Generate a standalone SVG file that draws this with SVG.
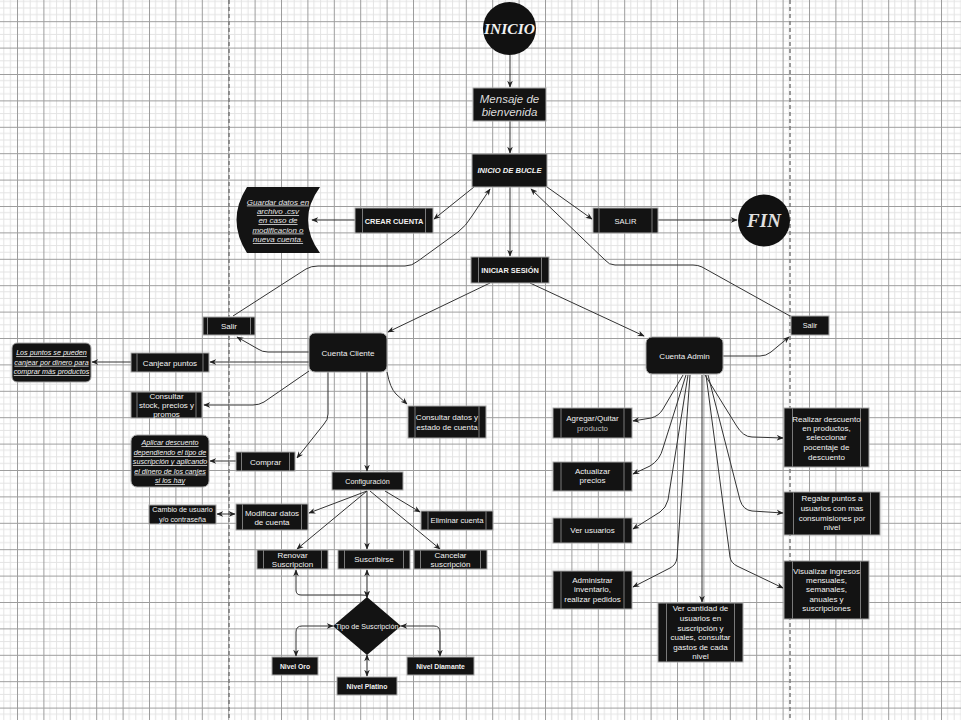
<svg xmlns="http://www.w3.org/2000/svg" width="961" height="720" viewBox="0 0 961 720">
<defs>
<pattern id="grid" width="26.4" height="26.4" patternUnits="userSpaceOnUse" x="17" y="21.2">
<path d="M6.6,0V26.4M13.2,0V26.4M19.8,0V26.4M0,6.6H26.4M0,13.2H26.4M0,19.8H26.4" stroke="#e3e3e3" stroke-width="1" fill="none"/>
<path d="M0.5,0V26.4M0,0.5H26.4" stroke="#9c9c9c" stroke-width="1" fill="none"/>
</pattern>
<marker id="ar" viewBox="0 0 10 10" refX="9" refY="5" markerWidth="7" markerHeight="7" markerUnits="userSpaceOnUse" orient="auto-start-reverse"><path d="M0,1 L10,5 L0,9 L3,5 z" fill="#222"/></marker>
</defs>
<style>
.bx{fill:#131313;stroke:#a8a8a8;stroke-width:1}
.in{stroke:#7a7a7a;stroke-width:1;fill:none}
.c{fill:none;stroke:#333;stroke-width:1;marker-end:url(#ar)}
.b{marker-start:url(#ar)}
.t{font-family:"Liberation Sans",Arial,sans-serif;font-size:8px;fill:#f2f2f2;text-anchor:middle}
.s{font-size:7.2px}
.u{font-style:italic;text-decoration:underline}
.dash{stroke:#7a7a7a;stroke-width:1.5;stroke-dasharray:4,3;fill:none}
</style>
<rect width="961" height="720" fill="#ffffff"/>
<rect width="961" height="720" fill="url(#grid)"/>
<path class="dash" d="M229,0V720M790,0V720"/>

<g id="connectors">
<path class="c" d="M510,55 L510,87"/>
<path class="c" d="M510,121 L510,153"/>
<path class="c" d="M474,187 L434,219"/>
<path class="c" d="M355,220 L312,220"/>
<path class="c" d="M547,187 L592,219"/>
<path class="c" d="M658,220 L737,220"/>
<path class="c" d="M510,187 L510,256"/>
<path class="c" d="M233,316 L306,269 Q311,266 318,266 L405,266 Q412,266 418,261 L458,232 Q466,226 472,216 L490,189"/>
<path class="c" d="M790,316 L702,267 Q698,265 693,265 L615,265 Q609,265 605,260 L531,189"/>
<path class="c" d="M490,283 L388,332"/>
<path class="c" d="M530,283 L644,336"/>
<path class="c" d="M309,352 L268,352 Q262,352 258,349 L237,337"/>
<path class="c" d="M309,362 L210,362"/>
<path class="c" d="M131,362 L92,362"/>
<path class="c" d="M309,371 L264,402 Q259,405 253,405 L204,405"/>
<path class="c" d="M328,372 L328,414 Q328,420 324,424 L297,458"/>
<path class="c" d="M236,461 L210,461"/>
<path class="c b" d="M217,514 L235,514"/>
<path class="c" d="M387,372 Q390,388 396,394 L407,404"/>
<path class="c" d="M367,372 L367,471"/>
<path class="c" d="M367,491 L309,513"/>
<path class="c" d="M367,491 L297,549"/>
<path class="c" d="M367,491 L367,549"/>
<path class="c" d="M385,491 L420,512"/>
<path class="c" d="M370,491 L440,549"/>
<path class="c b" d="M296,570 L296,590 Q296,595 301,595 L362,595 Q367,595 367,597.5"/>
<path class="c b" d="M367,570 L367,597"/>
<path class="c b" d="M333,626 L302,626 Q296,626 296,632 L296,656"/>
<path class="c b" d="M401,626 L434,626 Q440,626 440,632 L440,656"/>
<path class="c b" d="M367,655 L367,676"/>
<path class="c" d="M723,356 L760,356 Q766,356 771,352 L789,337"/>
<path class="c" d="M683,375 L663,409 Q659,416 651,418 L633,421"/>
<path class="c" d="M686,375 L663,448 Q660,460 650,466 L633,474"/>
<path class="c" d="M688,375 L668,500 Q666,508 660,512 L633,529"/>
<path class="c" d="M690,375 L677,558 Q676,565 670,568 L633,587"/>
<path class="c" d="M702,375 L702,602"/>
<path class="c" d="M706,375 L730,557 Q731,563 737,566 L783,588"/>
<path class="c" d="M708,375 L740,500 Q743,510 752,511 L783,513"/>
<path class="c" d="M705,375 L736,425 Q743,437 752,437 L783,438"/>
</g>

<g id="inicio"><circle cx="509.5" cy="28.5" r="26.5" fill="#111"/><text x="509.5" y="34" class="t" style="font-family:'Liberation Serif',serif;font-size:15.5px;font-weight:bold;font-style:italic">INICIO</text></g>
<g id="mensaje"><rect class="bx" x="473" y="88" width="73" height="33"/><text class="t" style="font-size:11.5px;font-style:italic;fill:#dcdcdc" x="509.5" y="102.5">Mensaje de<tspan x="509.5" y="115.5">bienvenida</tspan></text></g>
<g id="bucle"><rect class="bx" x="472" y="154" width="75" height="33"/><text class="t" style="font-weight:bold;font-style:italic;font-size:7.6px" x="509.5" y="173">INICIO DE BUCLE</text></g>
<g id="crear"><rect class="bx" x="355" y="208" width="78" height="25"/><path class="in" d="M362.5,208V233M425.5,208V233"/><text class="t" style="font-weight:bold;font-size:7.4px" x="394" y="223.5">CREAR CUENTA</text></g>
<g id="guardar"><path d="M247,187 L320,187 Q296,220 320,253 L247,253 Q226,220 247,187 Z" fill="#131313"/><text class="t u" style="fill:#e6e6e6" x="278" y="204.5">Guardar datos en<tspan x="278" y="214">archivo .csv</tspan><tspan x="278" y="223">en caso de</tspan><tspan x="278" y="232.5">modificacion o</tspan><tspan x="278" y="242">nueva cuenta.</tspan></text></g>
<g id="salir"><rect class="bx" x="593" y="208" width="65" height="25"/><path class="in" d="M599,208V233M652,208V233"/><text class="t" style="font-size:7.6px" x="625.5" y="223.5">SALIR</text></g>
<g id="fin"><circle cx="764" cy="220.5" r="26" fill="#111"/><text x="764" y="227" class="t" style="font-family:'Liberation Serif',serif;font-size:19px;font-weight:bold;font-style:italic;fill:#e0e0e0">FIN</text></g>
<g id="iniciar"><rect class="bx" x="471" y="257" width="78" height="26"/><path class="in" d="M478.5,257V283M541.5,257V283"/><text class="t" style="font-weight:bold;font-size:7.4px" x="510" y="273">INICIAR SESIÓN</text></g>
<g id="salir-cliente"><rect class="bx" x="203" y="317" width="52" height="18"/><path class="in" d="M207.5,317V335M250.5,317V335"/><text class="t" x="229" y="329">Salir</text></g>
<g id="cliente"><rect class="bx" x="309" y="333" width="78" height="39" rx="6"/><text class="t" x="348" y="355.5">Cuenta Cliente</text></g>
<g id="canjear"><rect class="bx" x="131" y="353" width="78" height="19"/><path class="in" d="M137,353V372M203,353V372"/><text class="t" x="170" y="365.5">Canjear puntos</text></g>
<g id="puntos"><rect class="bx" x="12" y="343" width="79" height="39" rx="5"/><text class="t s u" x="51.5" y="355.3">Los puntos se pueden<tspan x="51.5" y="364.8">canjear por dinero para</tspan><tspan x="51.5" y="374.2">comprar más productos</tspan></text></g>
<g id="stock"><rect class="bx" x="131" y="392" width="71" height="26"/><path class="in" d="M137,392V418M196,392V418"/><text class="t" x="166.5" y="398.5">Consultar<tspan x="166.5" y="407.5">stock, precios y</tspan><tspan x="166.5" y="417">promos</tspan></text></g>
<g id="comprar"><rect class="bx" x="236" y="452" width="59" height="19"/><path class="in" d="M241.5,452V471M289.5,452V471"/><text class="t" x="265.5" y="464.5">Comprar</text></g>
<g id="aplicar"><rect class="bx" x="131" y="435" width="78" height="52" rx="6"/><text class="t s u" x="170" y="445.3">Aplicar descuento<tspan x="170" y="455">dependiendo el tipo de</tspan><tspan x="170" y="464.3">suscripción y aplicando</tspan><tspan x="170" y="473.6">el dinero de los canjes</tspan><tspan x="170" y="483.3">si los hay</tspan></text></g>
<g id="cambio"><rect class="bx" x="149" y="505" width="67" height="19"/><text class="t s" x="182.5" y="512">Cambio de usuario<tspan x="182.5" y="521.7">y/o contraseña</tspan></text></g>
<g id="modificar"><rect class="bx" x="236" y="504" width="72" height="26"/><path class="in" d="M242.5,504V530M301.5,504V530"/><text class="t" x="272" y="515.5">Modificar datos<tspan x="272" y="525">de cuenta</tspan></text></g>
<g id="consultar-datos"><rect class="bx" x="408" y="406" width="78" height="32"/><path class="in" d="M415,406V438M479,406V438"/><text class="t" x="447" y="420">Consultar datos y<tspan x="447" y="429.5">estado de cuenta</tspan></text></g>
<g id="configuracion"><rect class="bx" x="332" y="472" width="71" height="18"/><text class="t s" x="367.5" y="483.5">Configuración</text></g>
<g id="eliminar"><rect class="bx" x="421" y="511" width="72" height="19"/><path class="in" d="M428,511V530M486,511V530"/><text class="t" style="font-size:7.7px" x="457" y="523.3">Eliminar cuenta</text></g>
<g id="renovar"><rect class="bx" x="257" y="550" width="71" height="19"/><path class="in" d="M263.5,550V569M321.5,550V569"/><text class="t" x="292.5" y="557.6">Renovar<tspan x="292.5" y="566.6">Suscripcion</tspan></text></g>
<g id="suscribirse"><rect class="bx" x="338" y="550" width="72" height="19"/><path class="in" d="M344.5,550V569M403.5,550V569"/><text class="t" x="374" y="562.3">Suscribirse</text></g>
<g id="cancelar"><rect class="bx" x="414" y="550" width="73" height="19"/><path class="in" d="M420.5,550V569M480.5,550V569"/><text class="t" x="450.5" y="557.6">Cancelar<tspan x="450.5" y="566.6">suscripción</tspan></text></g>
<g id="tipo"><path d="M367,597 L401,626 L367,655 L333,626 Z" fill="#131313"/><text class="t s" x="367" y="628.5">Tipo de Suscripción</text></g>
<g id="oro"><rect class="bx" x="272" y="657" width="46" height="18"/><text class="t" style="font-size:6.8px;font-weight:bold" x="295" y="668.5">Nivel Oro</text></g>
<g id="platino"><rect class="bx" x="337" y="677" width="60" height="18"/><text class="t" style="font-size:6.8px;font-weight:bold" x="367" y="688.5">Nivel Platino</text></g>
<g id="diamante"><rect class="bx" x="407" y="657" width="67" height="18"/><text class="t" style="font-size:6.8px;font-weight:bold" x="440.5" y="668.5">Nivel Diamante</text></g>
<g id="admin"><rect class="bx" x="646" y="337" width="77" height="37" rx="6"/><text class="t" x="684.5" y="358.5">Cuenta Admin</text></g>
<g id="salir-admin"><rect class="bx" x="791" y="316" width="38" height="19"/><text class="t s" x="810" y="328">Salir</text></g>
<g id="agregar"><rect class="bx" x="553" y="408" width="79" height="30"/><path class="in" d="M561,408V438M624,408V438"/><text class="t" x="592.5" y="421">Agregar/Quitar<tspan x="592.5" y="431" style="fill:#bdbdbd">producto</tspan></text></g>
<g id="actualizar"><rect class="bx" x="553" y="462" width="79" height="29"/><path class="in" d="M561,462V491M624,462V491"/><text class="t" x="592.5" y="473.8">Actualizar<tspan x="592.5" y="482.8">precios</tspan></text></g>
<g id="ver-usuarios"><rect class="bx" x="553" y="518" width="79" height="25"/><path class="in" d="M561,518V543M624,518V543"/><text class="t" x="592.5" y="533.3">Ver usuarios</text></g>
<g id="administrar"><rect class="bx" x="553" y="571" width="79" height="38"/><path class="in" d="M561,571V609M624,571V609"/><text class="t" x="592.5" y="582.8">Administrar<tspan x="592.5" y="592">inventario,</tspan><tspan x="592.5" y="601.8">realizar pedidos</tspan></text></g>
<g id="ver-cantidad"><rect class="bx" x="658" y="603" width="85" height="59"/><path class="in" d="M666.5,603V662M734.5,603V662"/><text class="t" x="700.5" y="610.5">Ver cantidad de<tspan x="700.5" y="620.5">usuarios en</tspan><tspan x="700.5" y="630.5">suscripción y</tspan><tspan x="700.5" y="640">cuales, consultar</tspan><tspan x="700.5" y="649.5">gastos de cada</tspan><tspan x="700.5" y="659">nivel</tspan></text></g>
<g id="realizar"><rect class="bx" x="784" y="408" width="85" height="59"/><path class="in" d="M792.5,408V467M860.5,408V467"/><text class="t" x="826.5" y="421.8">Realizar descuento<tspan x="826.5" y="431">en productos,</tspan><tspan x="826.5" y="440">seleccionar</tspan><tspan x="826.5" y="449.7">pocentaje de</tspan><tspan x="826.5" y="459.5">descuento</tspan></text></g>
<g id="regalar"><rect class="bx" x="784" y="492" width="96" height="43"/><path class="in" d="M793.5,492V535M870.5,492V535"/><text class="t" x="832" y="501">Regalar puntos a<tspan x="832" y="511">usuarios con mas</tspan><tspan x="832" y="521">consumisiones por</tspan><tspan x="832" y="530">nivel</tspan></text></g>
<g id="visualizar"><rect class="bx" x="784" y="561" width="85" height="58"/><path class="in" d="M792.5,561V619M860.5,561V619"/><text class="t" x="826.5" y="573.5">Visualizar ingresos<tspan x="826.5" y="582.8">mensuales,</tspan><tspan x="826.5" y="592">semanales,</tspan><tspan x="826.5" y="601.8">anuales y</tspan><tspan x="826.5" y="611">suscripciones</tspan></text></g>
</svg>
